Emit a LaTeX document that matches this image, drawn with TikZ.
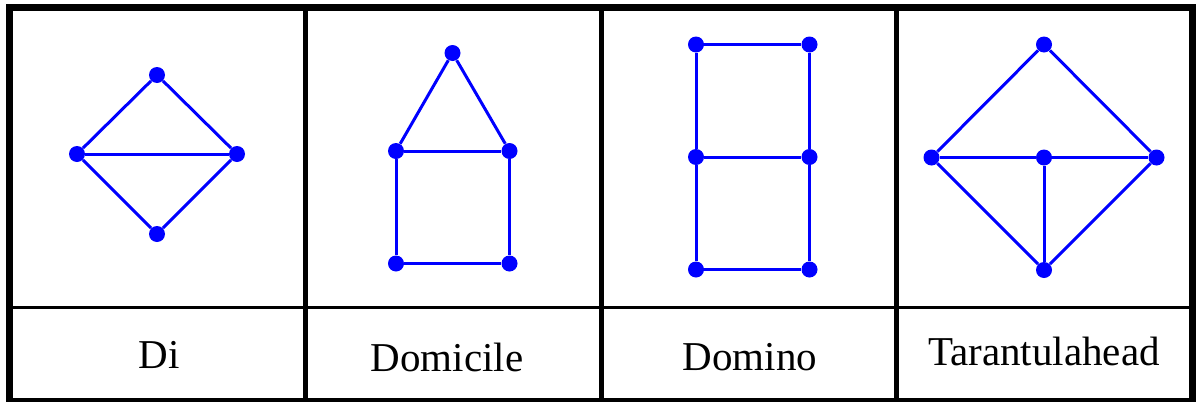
\documentclass[tikz,border=0pt]{standalone}
\usepackage{fontspec}
\setmainfont{Liberation Serif}
\definecolor{gb}{RGB}{0,0,255}
\tikzset{
    vtx/.style={circle,fill=gb,inner sep=0pt,minimum size=8pt},
    edg/.style={line width=1.5pt,gb},
    lbl/.style={anchor=base,inner sep=0pt,font=\fontsize{20.5}{24}\selectfont},
    frm/.style={line width=#1,black},
}

\begin{document}
\begin{tikzpicture}[x=0.5pt,y=-0.5pt]
\useasboundingbox (0,0) rectangle (1196,402);
% table
\draw[frm=3.5pt] (9.5,7.5) rectangle (1192.5,401.5);
\draw[frm=2.5pt] (305.5,7.5) -- (305.5,401.5); \draw[frm=2.5pt] (601,7.5) -- (601,401.5); \draw[frm=2.5pt] (896.5,7.5) -- (896.5,401.5);
\draw[frm=1.5pt] (9.5,307.5) -- (1192.5,307.5);
% Di
\node[vtx] (di1) at (157,75) {};
\node[vtx] (di2) at (77,154) {};
\node[vtx] (di3) at (237,154) {};
\node[vtx] (di4) at (157,234) {};
\draw[edg] (di1) -- (di2); \draw[edg] (di1) -- (di3); \draw[edg] (di2) -- (di3); \draw[edg] (di2) -- (di4); \draw[edg] (di3) -- (di4);
% Domicile
\node[vtx] (dc1) at (452.5,53) {};
\node[vtx] (dc2) at (396,151) {};
\node[vtx] (dc3) at (509.5,151) {};
\node[vtx] (dc4) at (396,263.5) {};
\node[vtx] (dc5) at (509.5,263.5) {};
\draw[edg] (dc1) -- (dc2); \draw[edg] (dc1) -- (dc3); \draw[edg] (dc2) -- (dc3); \draw[edg] (dc2) -- (dc4); \draw[edg] (dc3) -- (dc5); \draw[edg] (dc4) -- (dc5);
% Domino
\node[vtx] (dm1) at (696,44.5) {};
\node[vtx] (dm2) at (809.5,44.5) {};
\node[vtx] (dm3) at (696,157) {};
\node[vtx] (dm4) at (809.5,157) {};
\node[vtx] (dm5) at (696,269.5) {};
\node[vtx] (dm6) at (809.5,269.5) {};
\draw[edg] (dm1) -- (dm2); \draw[edg] (dm1) -- (dm3); \draw[edg] (dm2) -- (dm4); \draw[edg] (dm3) -- (dm4);
\draw[edg] (dm3) -- (dm5); \draw[edg] (dm4) -- (dm6); \draw[edg] (dm5) -- (dm6);
% Tarantulahead
\node[vtx] (th1) at (1044,44.5) {};
\node[vtx] (th2) at (931.5,157.5) {};
\node[vtx] (th3) at (1044,157.5) {};
\node[vtx] (th4) at (1156.5,157.5) {};
\node[vtx] (th5) at (1044,270) {};
\draw[edg] (th1) -- (th2); \draw[edg] (th1) -- (th4); \draw[edg] (th2) -- (th3); \draw[edg] (th3) -- (th4);
\draw[edg] (th2) -- (th5); \draw[edg] (th4) -- (th5); \draw[edg] (th3) -- (th5);
% labels
\node[lbl] (ldi) at (159,368) {Di};
\node[lbl] (ldc) at (447,371.5) {Domicile};
\node[lbl] (ldm) at (750,370) {Domino};
\node[lbl] (lth) at (1044,365) {Tarantulahead};
\end{tikzpicture}
\end{document}
